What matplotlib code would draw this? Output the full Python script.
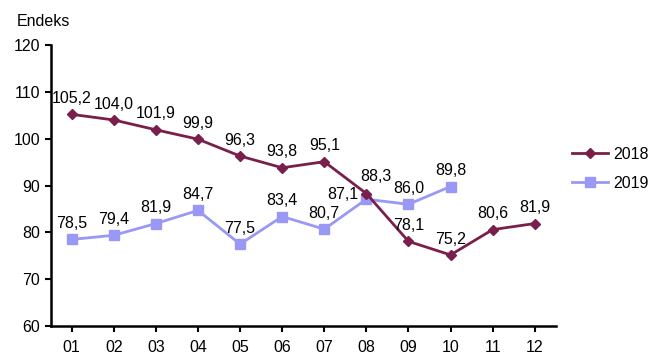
import matplotlib
matplotlib.use("Agg")
import matplotlib.pyplot as plt

plt.rcParams['font.family'] = ['Liberation Sans', 'DejaVu Sans']

months = ["01", "02", "03", "04", "05", "06", "07", "08", "09", "10", "11", "12"]
v2018 = [105.2, 104.0, 101.9, 99.9, 96.3, 93.8, 95.1, 88.3, 78.1, 75.2, 80.6, 81.9]
v2019 = [78.5, 79.4, 81.9, 84.7, 77.5, 83.4, 80.7, 87.1, 86.0, 89.8]
yticks = [60, 70, 80, 90, 100, 110, 120]

c18 = "#7A1F4C"
c19 = "#9999F5"
FS = 11.5

fig = plt.figure(figsize=(6.5, 3.6), dpi=100)
ax = fig.add_axes([0.078, 0.094, 0.777, 0.781])

x18 = list(range(len(v2018)))
x19 = list(range(len(v2019)))
ax.plot(x18, v2018, color=c18, lw=2, marker="D", ms=5, label="2018", zorder=3)
ax.plot(x19, v2019, color=c19, lw=2, marker="s", ms=7, label="2019", zorder=2)

def fmt(v):
    return f"{v:.1f}".replace(".", ",")

for x, v in zip(x18, v2018):
    dx, dy = (7, 7) if x == 7 else (0, 6)
    ax.annotate(fmt(v), (x, v), xytext=(dx, dy), textcoords="offset points",
                ha="center", va="bottom", fontsize=FS)
for x, v in zip(x19, v2019):
    dx, dy = (-17, -2) if x == 7 else (0, 6)
    ax.annotate(fmt(v), (x, v), xytext=(dx, dy), textcoords="offset points",
                ha="center", va="bottom", fontsize=FS)

ax.set_xlim(-0.5, len(months) - 0.5)
ax.set_ylim(60, 120)
ax.set_xticks(range(len(months)))
ax.set_xticklabels(months)
ax.set_yticks(yticks)
ax.tick_params(axis="both", labelsize=FS, direction="out", length=4, width=1.5)
ax.tick_params(axis="x", pad=6)
for s in ["top", "right"]:
    ax.spines[s].set_visible(False)
for s in ["left", "bottom"]:
    ax.spines[s].set_linewidth(1.8)

fig.text(0.026, 0.92, "Endeks", fontsize=FS, ha="left", va="bottom")

ax.legend(loc="center left", bbox_to_anchor=(1.0, 0.56), frameon=False,
          fontsize=FS, handlelength=2.3, labelspacing=0.9, handletextpad=0.3,
          borderaxespad=0.6)

fig.savefig("out.png", dpi=100)
